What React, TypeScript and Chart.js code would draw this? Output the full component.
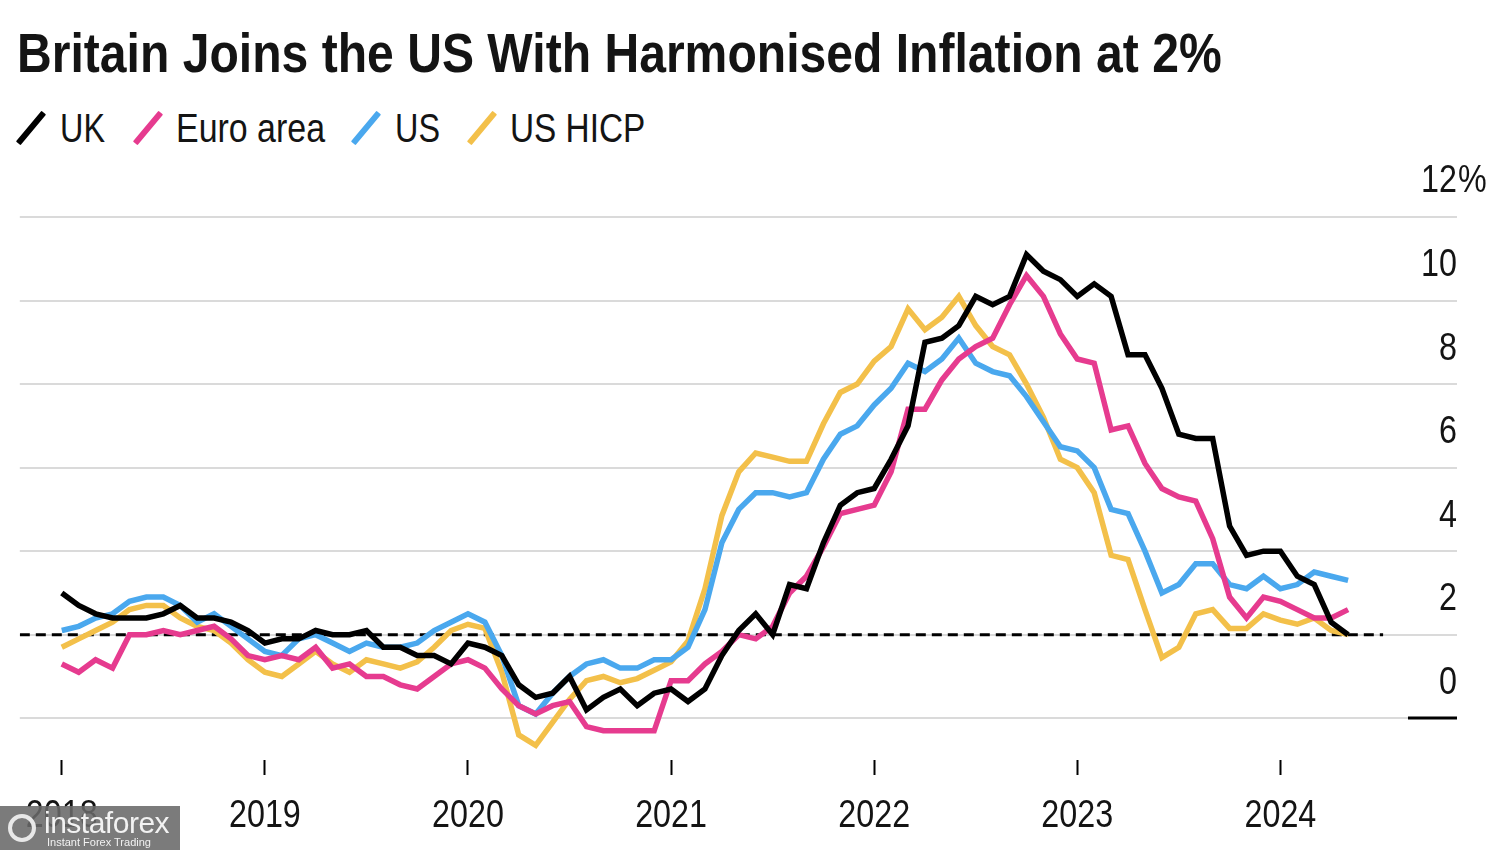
import React, { useEffect, useLayoutEffect, useRef, useState } from 'react';
import { Chart, registerables } from 'chart.js';

Chart.register(...registerables);

// ---------- data ----------
const yearLabels = ['2018', '2019', '2020', '2021', '2022', '2023', '2024'];
const yTicks = [0, 2, 4, 6, 8, 10, 12];
const targetRate = 2;

const seriesNames = ['UK', 'Euro area', 'US', 'US HICP'];

const ukSeries = [
  3.0, 2.7, 2.5, 2.4, 2.4, 2.4, 2.5, 2.7, 2.4, 2.4, 2.3, 2.1,
  1.8, 1.9, 1.9, 2.1, 2.0, 2.0, 2.1, 1.7, 1.7, 1.5, 1.5, 1.3,
  1.8, 1.7, 1.5, 0.8, 0.5, 0.6, 1.0, 0.2, 0.5, 0.7, 0.3, 0.6,
  0.7, 0.4, 0.7, 1.5, 2.1, 2.5, 2.0, 3.2, 3.1, 4.2, 5.1, 5.4,
  5.5, 6.2, 7.0, 9.0, 9.1, 9.4, 10.1, 9.9, 10.1, 11.1, 10.7, 10.5,
  10.1, 10.4, 10.1, 8.7, 8.7, 7.9, 6.8, 6.7, 6.7, 4.6, 3.9, 4.0,
  4.0, 3.4, 3.2, 2.3, 2.0,
];

const euroAreaSeries = [
  1.3, 1.1, 1.4, 1.2, 2.0, 2.0, 2.1, 2.0, 2.1, 2.2, 1.9, 1.5,
  1.4, 1.5, 1.4, 1.7, 1.2, 1.3, 1.0, 1.0, 0.8, 0.7, 1.0, 1.3,
  1.4, 1.2, 0.7, 0.3, 0.1, 0.3, 0.4, -0.2, -0.3, -0.3, -0.3, -0.3,
  0.9, 0.9, 1.3, 1.6, 2.0, 1.9, 2.2, 3.0, 3.4, 4.1, 4.9, 5.0,
  5.1, 5.9, 7.4, 7.4, 8.1, 8.6, 8.9, 9.1, 9.9, 10.6, 10.1, 9.2,
  8.6, 8.5, 6.9, 7.0, 6.1, 5.5, 5.3, 5.2, 4.3, 2.9, 2.4, 2.9,
  2.8, 2.6, 2.4, 2.4, 2.6,
];

const usSeries = [
  2.1, 2.2, 2.4, 2.5, 2.8, 2.9, 2.9, 2.7, 2.3, 2.5, 2.2, 1.9,
  1.6, 1.5, 1.9, 2.0, 1.8, 1.6, 1.8, 1.7, 1.7, 1.8, 2.1, 2.3,
  2.5, 2.3, 1.5, 0.3, 0.1, 0.6, 1.0, 1.3, 1.4, 1.2, 1.2, 1.4,
  1.4, 1.7, 2.6, 4.2, 5.0, 5.4, 5.4, 5.3, 5.4, 6.2, 6.8, 7.0,
  7.5, 7.9, 8.5, 8.3, 8.6, 9.1, 8.5, 8.3, 8.2, 7.7, 7.1, 6.5,
  6.4, 6.0, 5.0, 4.9, 4.0, 3.0, 3.2, 3.7, 3.7, 3.2, 3.1, 3.4,
  3.1, 3.2, 3.5, 3.4, 3.3,
];

const usHicpSeries = [
  1.7, 1.9, 2.1, 2.3, 2.6, 2.7, 2.7, 2.4, 2.2, 2.1, 1.8, 1.4,
  1.1, 1.0, 1.3, 1.6, 1.3, 1.1, 1.4, 1.3, 1.2, 1.35, 1.7, 2.1,
  2.25, 2.15, 1.1, -0.4, -0.65, -0.1, 0.45, 0.9, 1.0, 0.85, 0.95, 1.15,
  1.35, 1.85, 3.1, 4.85, 5.9, 6.35, 6.25, 6.15, 6.15, 7.05, 7.8, 8.0,
  8.55, 8.9, 9.8, 9.3, 9.6, 10.1, 9.4, 8.9, 8.7, 8.0, 7.2, 6.2,
  6.0, 5.4, 3.9, 3.8, 2.6, 1.45, 1.7, 2.5, 2.6, 2.15, 2.15, 2.5,
  2.35, 2.25, 2.4, 2.1, 2.0,
];

// ---------- styling / layout constants ----------
const seriesColors = ['#000000', '#e63b8f', '#4aa8ee', '#f3c04a'];
const TEXT_COLOR = '#141414';
const GRID_COLOR = '#dadada';
const AXIS_FONT = "'Liberation Sans', Arial, sans-serif";
const HTML_FONT = "'Liberation Sans', Arial, sans-serif";
const TEXT_SQUEEZE = 0.85;
const MONTHS_PER_YEAR = 12;
const X_MIN = -2.48;
const X_MAX = 79.54;
const TARGET_END = 78.07;
const Y_MIN = -1;
const Y_MAX = 12;
const Y_LABEL_OFFSET = -35;
const Y_FONT_SIZE = 38;
const X_FONT_SIZE = 38;
const LINE_WIDTH = 5.5;

const percentPlugin = {
  id: 'percentSuffix',
  afterDraw(chart: any) {
    const s = chart.scales.y;
    const ctx = chart.ctx;
    ctx.save();
    ctx.font = `${Y_FONT_SIZE}px ${AXIS_FONT}`;
    ctx.fillStyle = TEXT_COLOR;
    ctx.textAlign = 'left';
    ctx.textBaseline = 'middle';
    ctx.fillText('%', s.right + 1, s.getPixelForValue(yTicks[yTicks.length - 1]) + Y_LABEL_OFFSET);
    ctx.restore();
  },
};

function FitText({ text, left, baseline, width, size, bold }: { text: string; left: number; baseline: number; width: number; size: number; bold?: boolean }) {
  const ref = useRef<HTMLSpanElement>(null);
  const [sx, setSx] = useState(1);
  useLayoutEffect(() => {
    if (ref.current) {
      const w = ref.current.offsetWidth;
      if (w > 0) setSx(width / w);
    }
  }, [text, width, size]);
  return (
    <span
      ref={ref}
      style={{
        position: 'absolute',
        left,
        top: baseline - 0.8465 * size,
        fontFamily: HTML_FONT,
        fontSize: size,
        fontWeight: bold ? 700 : 400,
        lineHeight: 1,
        whiteSpace: 'nowrap',
        color: TEXT_COLOR,
        display: 'inline-block',
        transform: `scaleX(${sx})`,
        transformOrigin: 'left top',
      }}
    >
      {text}
    </span>
  );
}

const legendLayout = [
  { marker: 31, textLeft: 60, width: 45 },
  { marker: 148, textLeft: 176, width: 149 },
  { marker: 366, textLeft: 395, width: 45 },
  { marker: 482, textLeft: 510, width: 135 },
];

export default function App() {
  const canvasRef = useRef<HTMLCanvasElement>(null);

  useEffect(() => {
    const canvas = canvasRef.current;
    if (!canvas) return;
    // render canvas text slightly condensed (narrow sans look of the original)
    const ctx2d = canvas.getContext('2d') as any;
    const nativeFillText = ctx2d.fillText;
    ctx2d.fillText = function (text: string, x: number, y: number, maxWidth?: number) {
      this.save();
      this.translate(x, y);
      this.scale(TEXT_SQUEEZE, 1);
      if (maxWidth === undefined || maxWidth === null) nativeFillText.call(this, text, 0, 0);
      else nativeFillText.call(this, text, 0, 0, maxWidth / TEXT_SQUEEZE);
      this.restore();
    };

    const toPoints = (arr: number[]) => arr.map((v, i) => ({ x: i, y: v }));
    const allSeries = [ukSeries, euroAreaSeries, usSeries, usHicpSeries];
    const datasets: any[] = allSeries.map((s, i) => ({
      label: seriesNames[i],
      data: toPoints(s),
      borderColor: seriesColors[i],
      backgroundColor: seriesColors[i],
      borderWidth: LINE_WIDTH,
      pointRadius: 0,
      tension: 0,
      borderJoinStyle: 'miter',
      borderCapStyle: 'butt',
      fill: false,
    }));
    datasets.push({
      label: 'target',
      data: [
        { x: X_MIN, y: targetRate },
        { x: TARGET_END, y: targetRate },
      ],
      borderColor: '#000000',
      borderWidth: 3,
      borderDash: [10, 6],
      pointRadius: 0,
      fill: false,
    });

    const chart = new Chart(canvas, {
      type: 'line',
      data: { datasets },
      options: {
        animation: false,
        responsive: false,
        events: [],
        layout: { padding: { left: 17, right: 43, top: 67, bottom: 0 } },
        plugins: {
          legend: { display: false },
          title: { display: false },
          tooltip: { enabled: false },
        },
        scales: {
          x: {
            type: 'linear',
            min: X_MIN,
            max: X_MAX,
            afterBuildTicks: (s: any) => {
              s.ticks = yearLabels.map((_, i) => ({ value: i * MONTHS_PER_YEAR }));
            },
            afterFit: (s: any) => {
              s.height = 90;
            },
            border: { display: false },
            grid: {
              drawOnChartArea: false,
              drawTicks: true,
              tickLength: 15,
              tickColor: '#000000',
              tickWidth: 2,
            },
            ticks: {
              autoSkip: false,
              maxRotation: 0,
              padding: 19,
              color: TEXT_COLOR,
              font: { family: AXIS_FONT, size: X_FONT_SIZE },
              callback: (v: any) => yearLabels[Math.round(Number(v) / MONTHS_PER_YEAR)],
            },
          },
          y: {
            type: 'linear',
            position: 'right',
            min: Y_MIN,
            max: Y_MAX,
            afterBuildTicks: (s: any) => {
              s.ticks = yTicks.map((v) => ({ value: v }));
            },
            afterFit: (s: any) => {
              s.width = 49;
            },
            border: { display: false },
            grid: {
              color: GRID_COLOR,
              lineWidth: 2,
              drawTicks: true,
              tickLength: 49,
              tickColor: (c: any) => (c.tick && c.tick.value === 0 ? '#000000' : GRID_COLOR),
              tickWidth: (c: any) => (c.tick && c.tick.value === 0 ? 3 : 2),
            },
            ticks: {
              crossAlign: 'far',
              padding: 0,
              labelOffset: Y_LABEL_OFFSET,
              color: TEXT_COLOR,
              font: { family: AXIS_FONT, size: Y_FONT_SIZE },
              callback: (v: any) => String(v),
            },
          },
        },
      } as any,
      plugins: [percentPlugin],
    });
    return () => {
      chart.destroy();
      ctx2d.fillText = nativeFillText;
    };
  }, []);

  return (
    <div style={{ position: 'absolute', left: 0, top: 0, width: 1500, height: 850, background: '#ffffff', overflow: 'hidden' }}>
      <FitText text="Britain Joins the US With Harmonised Inflation at 2%" left={17} baseline={73} width={1205} size={55} bold />
      {seriesNames.map((name, i) => (
        <React.Fragment key={name}>
          <div
            style={{
              position: 'absolute',
              left: legendLayout[i].marker - 3,
              top: 128 - 20,
              width: 6,
              height: 40,
              background: seriesColors[i],
              transform: 'rotate(40deg)',
              borderRadius: 1,
            }}
          />
          <FitText text={name} left={legendLayout[i].textLeft} baseline={143} width={legendLayout[i].width} size={41} />
        </React.Fragment>
      ))}
      <canvas
        ref={canvasRef}
        width={1500}
        height={700}
        style={{ position: 'absolute', left: 0, top: 150, width: 1500, height: 700, display: 'block' }}
      />
      <div
        style={{
          position: 'absolute',
          left: 0,
          top: 806,
          width: 180,
          height: 44,
          background: 'rgba(105,105,105,0.88)',
        }}
      >
        <div style={{ position: 'absolute', left: 8, top: 8, width: 28, height: 28, borderRadius: 14, border: '4px solid #e8e8e8', boxSizing: 'border-box' }} />
        <div style={{ position: 'absolute', left: 44, top: 2, color: '#f2f2f2', fontFamily: HTML_FONT, fontSize: 30, lineHeight: 1, letterSpacing: -0.5 }}>instaforex</div>
        <div style={{ position: 'absolute', left: 47, top: 31, color: '#f2f2f2', fontFamily: HTML_FONT, fontSize: 11, lineHeight: 1 }}>Instant Forex Trading</div>
      </div>
    </div>
  );
}
